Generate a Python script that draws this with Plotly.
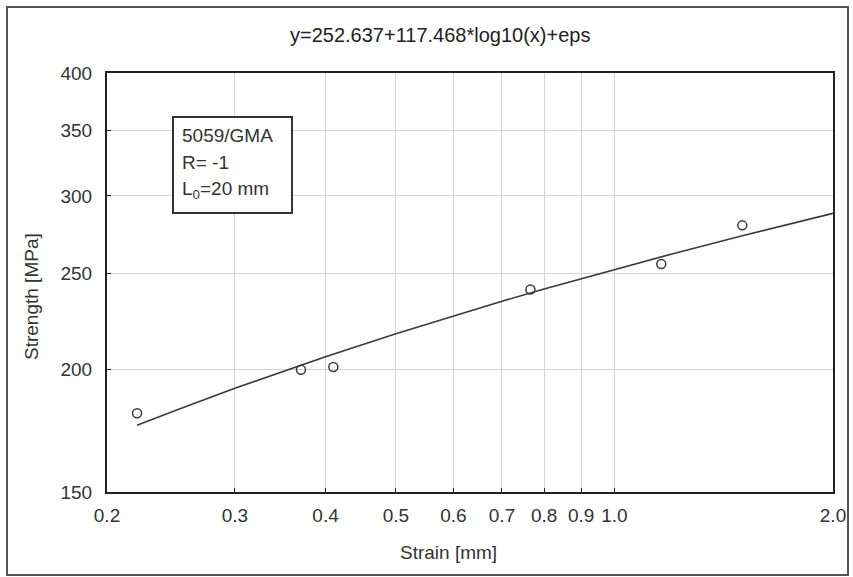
import plotly.graph_objects as go

strain = [0.22, 0.37, 0.41, 0.766, 1.16, 1.50]
strength = [180.4, 199.7, 201.0, 241.0, 255.8, 280.0]

# Fitted curve points (y=252.637+117.468*log10(x))
fit_x = [0.22, 0.25, 0.3, 0.35, 0.4, 0.5, 0.6, 0.7, 0.8, 1.0, 1.2, 1.5, 1.75, 2.0]
fit_y = [175.4, 181.9, 191.2, 199.1, 205.9, 217.3, 226.6, 234.4, 241.3, 252.6, 261.9, 273.3, 281.2, 288.0]

x_ticks = [0.2, 0.3, 0.4, 0.5, 0.6, 0.7, 0.8, 0.9, 1.0, 2.0]
x_ticklabels = ["0.2", "0.3", "0.4", "0.5", "0.6", "0.7", "0.8", "0.9", "1.0", "2.0"]
y_ticks = [150, 200, 250, 300, 350, 400]

title_text = "y=252.637+117.468*log10(x)+eps"
x_title = "Strain [mm]"
y_title = "Strength [MPa]"
box_lines = ["5059/GMA", "R= -1", "L<sub>0</sub>=20 mm"]

W, H = 853, 577
L, R, T, B = 107, 20, 73, 85
pw, ph = W - L - R, H - T - B

def px(xp):
    return (xp - L) / pw

def py(yp):
    return (H - B - yp) / ph

FONT = "Liberation Sans, Arial, sans-serif"
DARK = "#333333"
FS = 19

fig = go.Figure()
fig.add_trace(go.Scatter(x=fit_x, y=fit_y, mode="lines",
                         line=dict(color="#3a3a3a", width=1.6), showlegend=False))
fig.add_trace(go.Scatter(x=strain, y=strength, mode="markers",
                         marker=dict(symbol="circle-open", size=9, color="#3a3a3a",
                                     line=dict(width=1.5)), showlegend=False))

axis_common = dict(showline=True, linecolor="#222222", linewidth=2, mirror=True,
                   showgrid=True, gridcolor="#d4d4d4", gridwidth=1,
                   ticks="inside", ticklen=4, tickcolor="#222222",
                   tickfont=dict(family=FONT, size=FS, color=DARK), zeroline=False,
                   automargin=False)

fig.update_xaxes(type="log", range=[-0.69897, 0.30103], tickvals=x_ticks,
                 ticktext=x_ticklabels, ticklabelstandoff=5, **axis_common)
fig.update_yaxes(type="log", range=[2.176091, 2.60206], tickvals=y_ticks,
                 ticklabelstandoff=9, **axis_common)

shapes = [
    dict(type="rect", xref="paper", yref="paper",
         x0=px(7), x1=px(848), y0=py(575), y1=py(7),
         line=dict(color="#555555", width=2), fillcolor="rgba(0,0,0,0)", layer="below"),
    dict(type="rect", xref="paper", yref="paper",
         x0=px(173), x1=px(292), y0=py(213), y1=py(117),
         line=dict(color="#333333", width=2), fillcolor="white", layer="above"),
]

annotations = [
    dict(text=title_text, xref="paper", yref="paper", x=px(440), y=py(35),
         showarrow=False, font=dict(family=FONT, size=FS + 1, color="#222222"),
         xanchor="center", yanchor="middle"),
    dict(text=x_title, xref="paper", yref="paper", x=px(448), y=py(552),
         showarrow=False, font=dict(family=FONT, size=FS, color=DARK),
         xanchor="center", yanchor="middle"),
    dict(text=y_title, xref="paper", yref="paper", x=px(31), y=py(297),
         showarrow=False, textangle=-90, font=dict(family=FONT, size=FS, color=DARK),
         xanchor="center", yanchor="middle"),
]
for i, t in enumerate(box_lines):
    annotations.append(dict(text=t, xref="paper", yref="paper", x=px(180),
                            y=py(135 + 27.5 * i), showarrow=False,
                            font=dict(family=FONT, size=FS, color=DARK),
                            xanchor="left", yanchor="middle"))

fig.update_layout(width=W, height=H, margin=dict(l=L, r=R, t=T, b=B, autoexpand=False),
                  paper_bgcolor="white", plot_bgcolor="white",
                  shapes=shapes, annotations=annotations, showlegend=False)

fig.write_html("out.html", config={"displayModeBar": False},
               post_script="document.body.style.margin='0';")
